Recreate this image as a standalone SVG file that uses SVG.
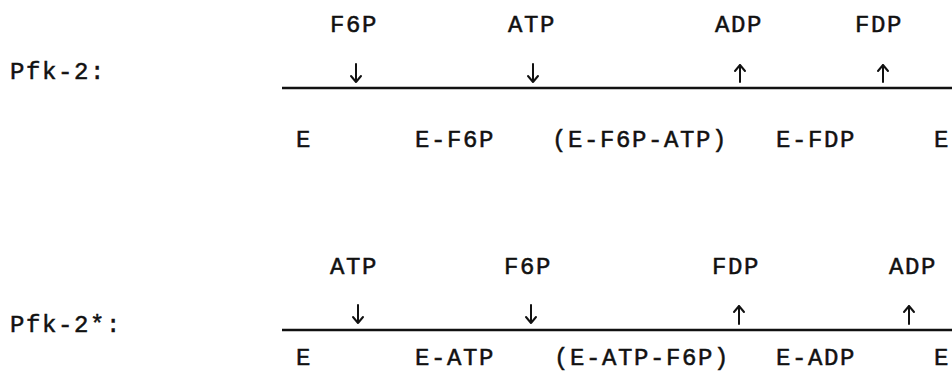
<svg xmlns="http://www.w3.org/2000/svg" width="952" height="372" viewBox="0 0 952 372">
<style>
text{font-family:"Liberation Mono","DejaVu Sans Mono",monospace;font-size:24px;letter-spacing:1.6px;fill:#111;stroke:#111;stroke-width:0.5}
.ln{stroke:#111;stroke-width:2.5;fill:none}
.ar{stroke:#111;stroke-width:2;fill:none;stroke-linecap:round;stroke-linejoin:round}
</style>
<rect width="952" height="372" fill="#fff"/>
<g id="pfk2">
  <text id="pfk2-label" x="10" y="79">Pfk-2:</text>
  <g id="pfk2-inputs">
    <text x="330" y="32">F6P</text>
    <text x="508" y="32">ATP</text>
    <text x="715" y="32">ADP</text>
    <text x="855" y="32">FDP</text>
  </g>
  <g id="pfk2-states">
    <text x="296" y="147">E</text>
    <text x="415" y="147">E-F6P</text>
    <text x="552" y="147">(E-F6P-ATP)</text>
    <text x="776" y="147">E-FDP</text>
    <text x="934" y="147">E</text>
  </g>
</g>
<g id="pfk2star">
  <text id="pfk2star-label" x="10" y="332">Pfk-2*:</text>
  <g id="pfk2star-inputs">
    <text x="330" y="274">ATP</text>
    <text x="504" y="274">F6P</text>
    <text x="712" y="274">FDP</text>
    <text x="889" y="274">ADP</text>
  </g>
  <g id="pfk2star-states">
    <text x="296" y="365">E</text>
    <text x="415" y="365">E-ATP</text>
    <text x="554" y="365">(E-ATP-F6P)</text>
    <text x="776" y="365">E-ADP</text>
    <text x="934" y="365">E</text>
  </g>
</g>
<g id="connectors">
  <line class="ln" x1="282" y1="88" x2="952" y2="88"/>
  <line class="ln" x1="282" y1="330" x2="952" y2="330"/>
  <path class="ar" d="M356 64V82M351 76L356 82L361 76"/>
  <path class="ar" d="M533 64V82M528 76L533 82L538 76"/>
  <path class="ar" d="M740 82V65M735 71L740 65L745 71"/>
  <path class="ar" d="M883 82V65M878 71L883 65L888 71"/>
  <path class="ar" d="M358 305V323M353 317L358 323L363 317"/>
  <path class="ar" d="M531 305V323M526 317L531 323L536 317"/>
  <path class="ar" d="M739 324V306M734 312L739 306L744 312"/>
  <path class="ar" d="M909 324V306M904 312L909 306L914 312"/>
</g>
</svg>
